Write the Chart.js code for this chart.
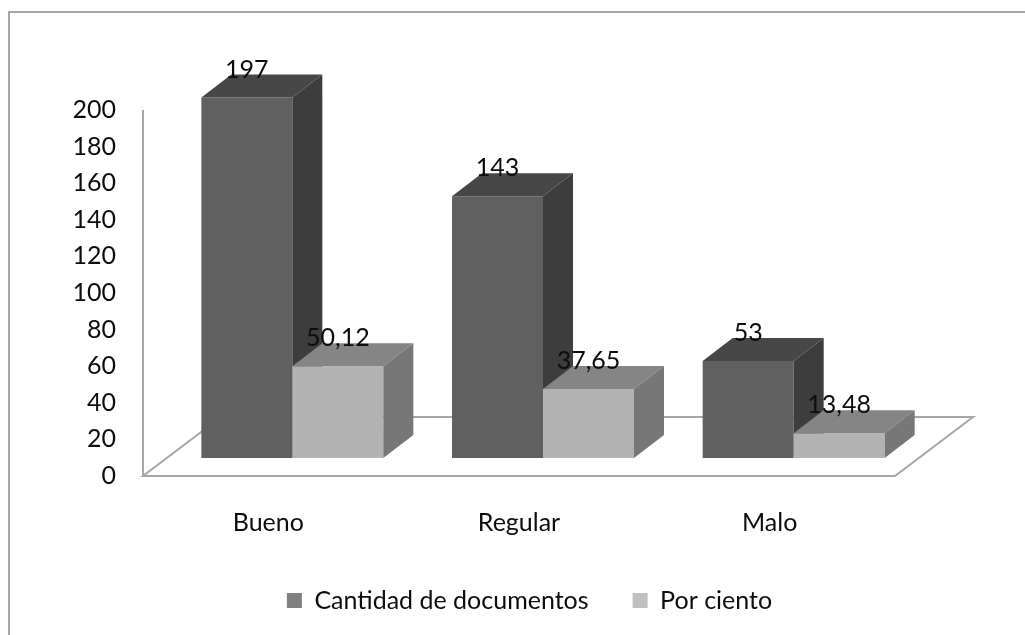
<!DOCTYPE html>
<html lang="es">
<head>
<meta charset="utf-8">
<title>Calidad de los documentos</title>
<script src="https://cdn.jsdelivr.net/npm/chart.js@4/dist/chart.umd.min.js"></script>
<style>
  html, body { margin: 0; padding: 0; background: #fff; }
  #contenedor { width: 1025px; height: 635px; }
</style>
</head>
<body>
<div id="contenedor"><canvas id="grafico" width="1025" height="635"></canvas></div>
<script>
// Datos
const categorias = ["Bueno", "Regular", "Malo"];
const cantidadDocumentos = [197, 143, 53];
const porCiento = [50.12, 37.65, 13.48];
const nombresSeries = ["Cantidad de documentos", "Por ciento"];
const ejeMin = 0;
const ejeMax = 200;
const ejePaso = 20;

// Estilo
const FUENTE = "Lato, 'Open Sans', sans-serif";
const TAM = 25;
const COLOR_TEXTO = "#0d0d0d";
const PROF = { dx: 30, dy: -23 };    // profundidad de cada barra
const MARGEN = { dx: 24, dy: -18 };  // borde del piso delante y detrás de las barras
const caras = [
  { frente: "#606060", arriba: "#474747", lado: "#3d3d3d", leyenda: "#808080" },
  { frente: "#b3b3b3", arriba: "#858585", lado: "#777777", leyenda: "#c0c0c0" }
];

function formatoNumero(v) {
  return String(v).replace(".", ",");
}

function poligono(ctx, puntos, color) {
  ctx.beginPath();
  ctx.moveTo(puntos[0][0], puntos[0][1]);
  for (let i = 1; i < puntos.length; i++) ctx.lineTo(puntos[i][0], puntos[i][1]);
  ctx.closePath();
  ctx.fillStyle = color;
  ctx.fill();
}

// Plugin para el marco, el piso y las caras 3D de las barras
const efecto3D = {
  id: "efecto3D",
  afterLayout(chart) {
    // la leyenda se centra bajo el área del gráfico y no bajo todo el lienzo
    const ley = chart.legend;
    if (!ley) return;
    ley.left = 140;
    ley.right = chart.chartArea.right;
    ley.width = ley.right - ley.left;
  },
  beforeDraw(chart) {
    const ctx = chart.ctx;
    ctx.save();
    ctx.strokeStyle = "#a6a6a6";
    ctx.lineWidth = 2;
    ctx.beginPath();
    ctx.moveTo(9, chart.height);
    ctx.lineTo(9, 12);
    ctx.lineTo(chart.width, 12);
    ctx.stroke();
    ctx.restore();
  },
  beforeDatasetsDraw(chart) {
    const ctx = chart.ctx;
    const xs = chart.scales.x;
    const ys = chart.scales.y;
    const y0 = ys.getPixelForValue(ejeMin);
    const yTope = ys.getPixelForValue(ejeMax);
    const izq = xs.left;
    const der = xs.right;
    const piso = [
      [izq - MARGEN.dx, y0 - MARGEN.dy],
      [der - MARGEN.dx, y0 - MARGEN.dy],
      [der + PROF.dx + MARGEN.dx, y0 + PROF.dy + MARGEN.dy],
      [izq + PROF.dx + MARGEN.dx, y0 + PROF.dy + MARGEN.dy]
    ];
    ctx.save();
    ctx.beginPath();
    ctx.moveTo(piso[0][0], piso[0][1]);
    piso.slice(1).forEach(p => ctx.lineTo(p[0], p[1]));
    ctx.closePath();
    ctx.fillStyle = "#ffffff";
    ctx.fill();
    ctx.strokeStyle = "#a6a6a6";
    ctx.lineWidth = 2;
    ctx.stroke();

    // línea del eje vertical
    ctx.beginPath();
    ctx.moveTo(izq - MARGEN.dx, yTope - MARGEN.dy);
    ctx.lineTo(izq - MARGEN.dx, y0 - MARGEN.dy);
    ctx.stroke();
    ctx.restore();
  },
  beforeDatasetDraw() {
    // las barras se dibujan todas juntas después, en orden de izquierda a derecha
    return false;
  },
  afterDatasetsDraw(chart) {
    const ctx = chart.ctx;
    ctx.save();
    chart.data.datasets.forEach((ds, i) => {
      const meta = chart.getDatasetMeta(i);
      const c = caras[i];
      meta.data.forEach(barra => {
        barra.draw(ctx);
        const { x, y, base, width } = barra.getProps(["x", "y", "base", "width"], true);
        const l = x - width / 2;
        const r = x + width / 2;
        poligono(ctx, [[l, y], [l + PROF.dx, y + PROF.dy], [r + PROF.dx, y + PROF.dy], [r, y]], c.arriba);
        poligono(ctx, [[r, y], [r + PROF.dx, y + PROF.dy], [r + PROF.dx, base + PROF.dy], [r, base]], c.lado);
      });
    });

    // etiquetas de valores
    ctx.font = TAM + "px " + FUENTE;
    ctx.fillStyle = COLOR_TEXTO;
    ctx.textAlign = "center";
    ctx.textBaseline = "middle";
    chart.data.datasets.forEach((ds, i) => {
      const meta = chart.getDatasetMeta(i);
      meta.data.forEach((barra, j) => {
        const { x, y } = barra.getProps(["x", "y"], true);
        ctx.fillText(formatoNumero(ds.data[j]), x, y - 28);
      });
    });
    ctx.restore();
  }
};

const ctx = document.getElementById("grafico").getContext("2d");
const grafico = new Chart(ctx, {
  type: "bar",
  data: {
    labels: categorias,
    datasets: [
      {
        label: nombresSeries[0],
        data: cantidadDocumentos,
        backgroundColor: caras[0].frente,
        borderWidth: 0
      },
      {
        label: nombresSeries[1],
        data: porCiento,
        backgroundColor: caras[1].frente,
        borderWidth: 0
      }
    ]
  },
  options: {
    responsive: false,
    animation: false,
    categoryPercentage: 0.726,
    barPercentage: 1.0,
    layout: {
      padding: { left: 40, right: 106, top: 92, bottom: 12 }
    },
    plugins: {
      tooltip: { enabled: false },
      legend: {
        position: "bottom",
        labels: {
          font: { family: FUENTE, size: TAM },
          color: COLOR_TEXTO,
          boxWidth: 15,
          boxHeight: 15,
          padding: 44,
          generateLabels(chart) {
            return chart.data.datasets.map((ds, i) => ({
              text: ds.label,
              fillStyle: caras[i].leyenda,
              strokeStyle: caras[i].leyenda,
              lineWidth: 0,
              hidden: false,
              datasetIndex: i,
              fontColor: COLOR_TEXTO
            }));
          }
        }
      }
    },
    scales: {
      x: {
        grid: { display: false, drawTicks: false },
        border: { display: false },
        ticks: {
          font: { family: FUENTE, size: TAM },
          color: COLOR_TEXTO,
          padding: 50,
          labelOffset: -24
        },
        afterFit(scale) {
          scale.height = 86;
        }
      },
      y: {
        min: ejeMin,
        max: ejeMax,
        grid: { display: false, drawTicks: false },
        border: { display: false },
        ticks: {
          stepSize: ejePaso,
          font: { family: FUENTE, size: TAM },
          color: COLOR_TEXTO,
          padding: 51,
          labelOffset: 18
        },
        afterFit(scale) {
          scale.width = 127;
        }
      }
    }
  },
  plugins: [efecto3D]
});
</script>
</body>
</html>
